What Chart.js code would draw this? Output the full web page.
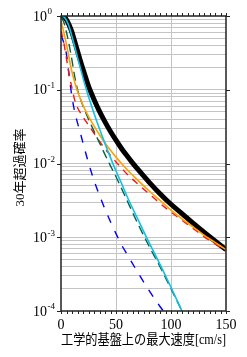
<!DOCTYPE html>
<html>
<head>
<meta charset="utf-8">
<script src="https://cdn.jsdelivr.net/npm/chart.js@4/dist/chart.umd.min.js"></script>
<style>
  html, body { margin: 0; padding: 0; background: #fff; }
  #wrap { width: 247px; height: 357px; }
</style>
</head>
<body>
<div id="wrap"><canvas id="chart"></canvas></div>
<script>
const xTitle = '工学的基盤上の最大速度[cm/s]';
const yTitle = '30年超過確率';
const xTicks = [0, 50, 100, 150];
const decadeExps = [0, -1, -2, -3, -4];
const minorSteps = [1, 2, 3, 4, 5, 6, 7, 8, 9];

// thick black curve
const blackX = [0, 2.5, 5, 7.5, 10, 12.5, 15, 17.5, 20, 22.5, 25, 30, 35, 40, 45, 50, 55, 60, 65, 70, 80, 90, 100, 110, 120, 130, 140, 150];
const blackY = [1.0, 0.985, 0.89, 0.75, 0.6, 0.45, 0.335, 0.25, 0.19, 0.145, 0.112, 0.074, 0.051, 0.0367, 0.0272, 0.0207, 0.016, 0.0127, 0.0102, 0.0083, 0.0056, 0.0039, 0.0028, 0.00209, 0.00155, 0.00117, 0.00089, 0.00068];

const cyanX = [0, 2.5, 5, 7.5, 10, 12.5, 15, 17.5, 20, 22.5, 25, 30, 35, 40, 45, 50, 55, 60, 70, 80, 90, 100, 110];
const cyanY = [1.0, 0.977, 0.87, 0.71, 0.525, 0.38, 0.275, 0.2, 0.145, 0.107, 0.081, 0.048, 0.0295, 0.0186, 0.012, 0.0079, 0.0054, 0.0036, 0.00174, 0.00085, 0.00043, 0.00021, 0.0001];

const orangeX = [0, 2.5, 5, 7.5, 10, 12.5, 15, 17.5, 20, 25, 30, 35, 40, 45, 50, 55, 60, 70, 80, 90, 100, 110, 120, 130, 140, 150];
const orangeY = [0.86, 0.6, 0.41, 0.263, 0.174, 0.126, 0.0955, 0.076, 0.0617, 0.0437, 0.0324, 0.0245, 0.019, 0.0151, 0.0122, 0.01, 0.0083, 0.0059, 0.00427, 0.00316, 0.00234, 0.00178, 0.00138, 0.00107, 0.00085, 0.00068];

const greenX = [0, 2.5, 5, 7.5, 10, 12.5, 15, 17.5, 20, 25, 30, 35, 40, 45, 50, 55, 60, 70, 80, 90, 100, 110];
const greenY = [0.955, 0.83, 0.6, 0.4, 0.25, 0.15, 0.1, 0.076, 0.06, 0.04, 0.0275, 0.019, 0.0132, 0.0093, 0.0066, 0.0046, 0.00316, 0.00151, 0.00076, 0.0004, 0.0002, 0.0001];

const redX = [0, 2.5, 5, 7.5, 10, 12.5, 15, 17.5, 20, 25, 30, 35, 40, 45, 50, 55, 60, 70, 80, 90, 100, 110, 120, 130, 140, 150];
const redY = [0.63, 0.437, 0.263, 0.158, 0.105, 0.0724, 0.0575, 0.049, 0.0427, 0.0331, 0.0257, 0.02, 0.0158, 0.0129, 0.0105, 0.0087, 0.0072, 0.00525, 0.00389, 0.00288, 0.00219, 0.0017, 0.00132, 0.00102, 0.00081, 0.00065];

const blueX = [0, 2.5, 5, 7.5, 10, 12.5, 15, 17.5, 20, 25, 30, 35, 40, 45, 50, 55, 60, 70, 80, 90, 93];
const blueY = [0.55, 0.437, 0.302, 0.151, 0.0794, 0.0501, 0.0355, 0.0263, 0.019, 0.0102, 0.0059, 0.0037, 0.0024, 0.00162, 0.00112, 0.00079, 0.00059, 0.00033, 0.00019, 0.000115, 0.0001];

const pts = (xs, ys) => xs.map((x, i) => ({ x, y: ys[i] }));

function line(xs, ys, color, width, dash) {
    return {
        data: pts(xs, ys),
        borderColor: color,
        borderWidth: width,
        borderDash: dash || [],
        pointRadius: 0,
        fill: false,
        cubicInterpolationMode: 'monotone'
    };
}

const serif = '"Liberation Serif", "Noto Sans CJK JP"';
const gridColor = '#c4c4c4';

const frame = {
    id: 'frame',
    afterDraw(chart) {
        const { ctx, chartArea: a, scales } = chart;
        const xs = scales.x, ys = scales.y;
        ctx.save();
        ctx.strokeStyle = '#222';
        ctx.lineWidth = 1.5;
        ctx.strokeRect(a.left, a.top, a.right - a.left, a.bottom - a.top);

        ctx.lineWidth = 1;
        ctx.beginPath();
        for (let v = 0; v <= 150; v += 5) {
            const px = Math.round(xs.getPixelForValue(v)) + 0.5;
            ctx.moveTo(px, a.bottom); ctx.lineTo(px, a.bottom + 3);
            ctx.moveTo(px, a.top); ctx.lineTo(px, a.top - 3);
        }
        decadeExps.forEach(e => {
            const py = Math.round(ys.getPixelForValue(Math.pow(10, e))) + 0.5;
            ctx.moveTo(a.left - 4, py); ctx.lineTo(a.left, py);
            ctx.moveTo(a.right, py); ctx.lineTo(a.right + 4, py);
        });
        ctx.stroke();

        // y labels 10^n
        ctx.fillStyle = '#000';
        ctx.textBaseline = 'middle';
        decadeExps.forEach(e => {
            const py = ys.getPixelForValue(Math.pow(10, e));
            ctx.font = '14px ' + serif;
            ctx.textAlign = 'right';
            ctx.fillText('10', 47, py + 1);
            ctx.font = '9px ' + serif;
            ctx.textAlign = 'left';
            ctx.fillText(String(e), 47.5, py - 4);
        });

        // y title, rotated
        ctx.save();
        ctx.translate(21, (a.top + a.bottom) / 2 + 4);
        ctx.rotate(-Math.PI / 2);
        ctx.font = '13px ' + serif;
        ctx.textAlign = 'center';
        ctx.fillText(yTitle, 0, 0);
        ctx.restore();
        ctx.restore();
    }
};

new Chart(document.getElementById('chart'), {
    type: 'line',
    data: {
        datasets: [
            line(cyanX, cyanY, '#10c0e8', 1.6),
            line(orangeX, orangeY, '#ffa000', 1.6),
            line(greenX, greenY, '#00664a', 1.4, [9, 5]),
            line(redX, redY, '#ff1010', 1.4, [7, 6]),
            line(blueX, blueY, '#0000ff', 1.4, [8, 9]),
            line(blackX, blackY, '#000000', 5)
        ]
    },
    options: {
        animation: false,
        responsive: true,
        maintainAspectRatio: false,
        devicePixelRatio: 1,
        layout: { padding: { top: 16, right: 21, left: 0, bottom: 0 } },
        plugins: { legend: { display: false }, tooltip: { enabled: false } },
        scales: {
            x: {
                type: 'linear',
                min: 0,
                max: 150,
                afterBuildTicks: s => { s.ticks = xTicks.map(v => ({ value: v })); },
                afterFit: s => { s.height = 46; },
                border: { display: false },
                grid: {
                    drawTicks: false,
                    color: c => (c.tick && (c.tick.value === 0 || c.tick.value === 150)) ? 'rgba(0,0,0,0)' : gridColor
                },
                ticks: { color: '#000', padding: 6, font: { family: serif, size: 14 }, maxRotation: 0 },
                title: {
                    display: true,
                    text: xTitle,
                    color: '#000',
                    font: { family: serif, size: 14 },
                    padding: { top: 0, bottom: 8 }
                }
            },
            y: {
                type: 'logarithmic',
                min: 1e-4,
                max: 1,
                afterBuildTicks: s => {
                    const t = [];
                    decadeExps.slice().reverse().forEach(e => {
                        minorSteps.forEach(m => {
                            const v = m * Math.pow(10, e);
                            if (v <= 1.0000001) t.push({ value: v });
                        });
                    });
                    s.ticks = t;
                },
                afterFit: s => { s.width = 61; },
                border: { display: false },
                grid: {
                    drawTicks: false,
                    color: c => (c.tick && (c.tick.value === 1 || c.tick.value === 1e-4)) ? 'rgba(0,0,0,0)' : gridColor
                },
                ticks: { display: false, autoSkip: false },
                title: { display: false }
            }
        }
    },
    plugins: [frame]
});
</script>
</body>
</html>
